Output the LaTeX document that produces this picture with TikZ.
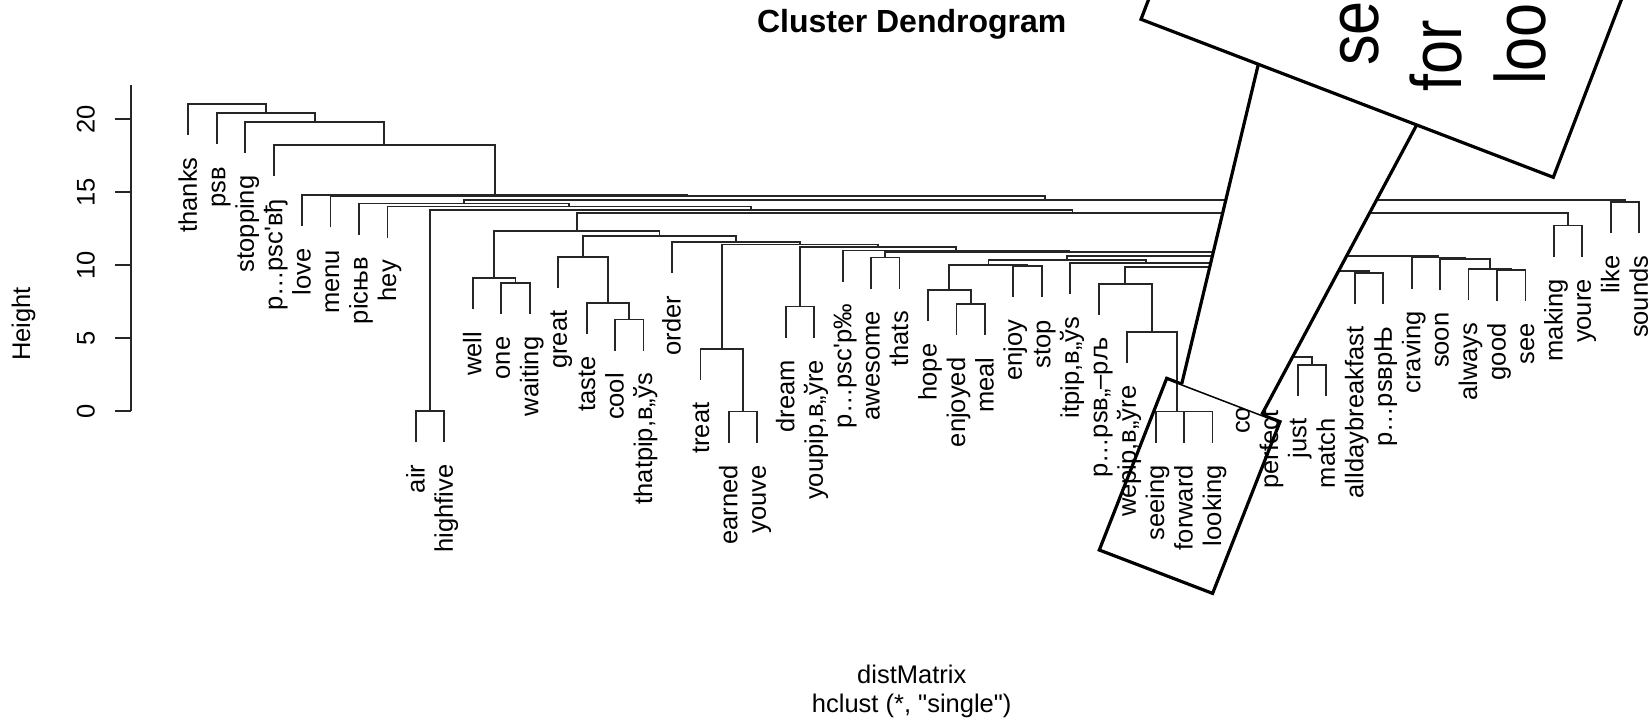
\documentclass[tikz,border=0pt]{standalone}
\usepackage{fontspec}
\setmainfont{Liberation Sans}[Ligatures=TeXOff]
\usetikzlibrary{calc}
\newcommand\lblfont{\fontsize{25.5}{30}\selectfont}
\newcommand\dleaf[4]{%
  \coordinate (#1) at ({188.3+28.45*(#2-1)},{#3+31});
  \node[lbl] (#1t) at ({188.3+28.45*(#2-1)+8.6},{#3+53.5}) {#4};
}
\newcommand\dmerge[4]{%
  \coordinate (#1h) at (0,#4);
  \draw[dl] (#2) -- (#2 |- #1h) -- (#3 |- #1h) -- (#3);
  \coordinate (#1) at ($(#2 |- #1h)!0.5!(#3 |- #1h)$);
}
\begin{document}
\begin{tikzpicture}[x=1pt,y=-1pt,
  dl/.style={line width=1.8pt,draw=black!85,line join=miter},
  lbl/.style={rotate=90,anchor=base east,inner sep=0pt,font=\lblfont},
  tick/.style={rotate=90,anchor=south,inner sep=0pt,font=\lblfont},
  frame/.style={line width=3.2pt,draw=black,line join=miter},
  magtxt/.style={rotate=90,anchor=base west,inner sep=0pt,font=\lblfont}]
\useasboundingbox (0,0) rectangle (1652,725);
\clip (0,0) rectangle (1652,725);
\fill[white] (0,0) rectangle (1652,725);

% titles
\node[font=\fontsize{32}{38}\selectfont\bfseries,anchor=base,inner sep=0pt] (title) at (911.7,33) {Cluster Dendrogram};
\node[font=\lblfont,anchor=base,inner sep=0pt] (xlab1) at (911.7,683) {distMatrix};
\node[font=\lblfont,anchor=base,inner sep=0pt] (xlab2) at (911.7,712) {hclust (*, "single")};
\node[font=\lblfont,rotate=90,anchor=base,inner sep=0pt] (ylab) at (30,324) {Height};

% axis
\draw[dl] (130.7,85) -- (130.7,411);
\foreach \v/\yy in {0/411,5/338,10/265,15/192,20/119}{
  \draw[dl] (115,\yy) -- (130.7,\yy);
  \node[tick] (tk\v) at (95,\yy) {\v};
}

% leaves
\dleaf{L1}{1}{103.7}{thanks}
\dleaf{L2}{2}{113.3}{рѕв}
\dleaf{L3}{3}{122}{stopping}
\dleaf{L4}{4}{145.3}{р…рѕс'вђ}
\dleaf{L5}{5}{195}{love}
\dleaf{L6}{6}{196.3}{menu}
\dleaf{L7}{7}{203.5}{рісњв}
\dleaf{L8}{8}{206.5}{hey}
\dleaf{L9}{9}{411}{air}
\dleaf{L10}{10}{411}{highfive}
\dleaf{L11}{11}{278}{well}
\dleaf{L12}{12}{283}{one}
\dleaf{L13}{13}{283}{waiting}
\dleaf{L14}{14}{257}{great}
\dleaf{L15}{15}{303}{taste}
\dleaf{L16}{16}{319.5}{cool}
\dleaf{L17}{17}{319.5}{thatpip,в„ўs}
\dleaf{L18}{18}{242}{order}
\dleaf{L19}{19}{349}{treat}
\dleaf{L20}{20}{411.5}{earned}
\dleaf{L21}{21}{411.5}{youve}
\dleaf{L22}{22}{306.5}{dream}
\dleaf{L23}{23}{306.5}{youpip,в„ўre}
\dleaf{L24}{24}{250.5}{р…рѕс'р‰}
\dleaf{L25}{25}{257.5}{awesome}
\dleaf{L26}{26}{257.5}{thats}
\dleaf{L27}{27}{290}{hope}
\dleaf{L28}{28}{304}{enjoyed}
\dleaf{L29}{29}{304}{meal}
\dleaf{L30}{30}{266.3}{enjoy}
\dleaf{L31}{31}{266.3}{stop}
\dleaf{L32}{32}{263}{itpip,в„ўs}
\dleaf{L33}{33}{284}{р…рѕв„–рљ}
\dleaf{L34}{34}{332}{wepip,в„ўre}
\dleaf{L35}{35}{411.5}{seeing}
\dleaf{L36}{36}{411.5}{forward}
\dleaf{L37}{37}{411.5}{looking}
\coordinate (L38) at ({188.3+28.45*37},361);
\node[lbl,anchor=base west] (L38t) at ({188.3+28.45*37+8.6},434) {co};
\dleaf{L39}{39}{356.7}{perfect}
\dleaf{L40}{40}{365}{just}
\dleaf{L41}{41}{365}{match}
\dleaf{L42}{42}{273}{alldaybreakfast}
\dleaf{L43}{43}{273}{р…рѕврЊ}
\dleaf{L44}{44}{257.5}{craving}
\dleaf{L45}{45}{259}{soon}
\dleaf{L46}{46}{268.8}{always}
\dleaf{L47}{47}{269.8}{good}
\dleaf{L48}{48}{269.8}{see}
\dleaf{L49}{49}{225.5}{making}
\dleaf{L50}{50}{225.5}{youre}
\dleaf{L51}{51}{202}{like}
\dleaf{L52}{52}{202}{sounds}

% merges
\dmerge{mAH}{L9}{L10}{411}
\dmerge{mOW}{L12}{L13}{283}
\dmerge{mX}{L11}{mOW}{278}
\dmerge{mGc}{L16}{L17}{319.5}
\dmerge{mGb}{L15}{mGc}{303}
\dmerge{mG}{L14}{mGb}{257}
\dmerge{mEY}{L20}{L21}{411.5}
\dmerge{mTR}{L19}{mEY}{349}
\dmerge{mDR}{L22}{L23}{306.5}
\dmerge{mAT}{L25}{L26}{257.5}
\dmerge{mEM}{L28}{L29}{304}
\dmerge{mHEM}{L27}{mEM}{290}
\dmerge{mES}{L30}{L31}{266.3}
\dmerge{mHES}{mHEM}{mES}{265}
\dmerge{mFL}{L36}{L37}{411.5}
\dmerge{mSFL}{L35}{mFL}{411.5}
\dmerge{mWS}{L34}{mSFL}{332}
\dmerge{mPW}{L33}{mWS}{284}
\dmerge{mJM}{L40}{L41}{365}
\dmerge{mPJM}{L39}{mJM}{356.7}
\dmerge{mCPJM}{L38}{mPJM}{330}
\dmerge{mADB}{L42}{L43}{273}
\dmerge{mKd}{mCPJM}{mADB}{271}
\dmerge{mKc}{mPW}{mKd}{266.7}
\dmerge{mKb}{L32}{mKc}{263}
\dmerge{mKa}{mHES}{mKb}{259.8}
\dmerge{mGS}{L47}{L48}{269.8}
\dmerge{mAGS}{L46}{mGS}{268.8}
\dmerge{mSAGS}{L45}{mAGS}{259}
\dmerge{mCS}{L44}{mSAGS}{257.5}
\dmerge{mK}{mKa}{mCS}{256.3}
\dmerge{mAE}{mAT}{mK}{252}
\dmerge{mAD}{L24}{mAE}{250.5}
\dmerge{mAC}{mDR}{mAD}{246.8}
\dmerge{mZb}{mTR}{mAC}{244.5}
\dmerge{mZ}{L18}{mZb}{242}
\dmerge{mY}{mG}{mZ}{235.7}
\dmerge{mW}{mX}{mY}{231}
\dmerge{mMY}{L49}{L50}{225.5}
\dmerge{mV}{mW}{mMY}{212.7}
\dmerge{mU}{mAH}{mV}{209.7}
\dmerge{mT}{L8}{mU}{206.5}
\dmerge{mQ}{L7}{mT}{203.5}
\dmerge{mLS}{L51}{L52}{202}
\dmerge{mP}{mQ}{mLS}{200}
\dmerge{mR}{L6}{mP}{196.3}
\dmerge{mS}{L5}{mR}{195}
\dmerge{mNc}{L4}{mS}{145.3}
\dmerge{mNb}{L3}{mNc}{122}
\dmerge{mNa}{L2}{mNb}{113.3}
\dmerge{mNo}{L1}{mNa}{103.7}

% magnifier: small frame
\coordinate (sT) at (1166.7,378.3);
\coordinate (sR) at (1280,421.7);
\coordinate (sB) at (1212.6,593.4);
\coordinate (sL) at (1099.3,550);
\draw[frame] (sT) -- (sR) -- (sB) -- (sL) -- cycle;

% connecting band
\coordinate (bA) at (1181.7,384.0);
\coordinate (bB) at (1261.7,414.7);
\coordinate (bC) at (1416.7,124.9);
\coordinate (bD) at (1258.3,64.3);
\fill[white] (bA) -- (bB) -- (bC) -- (bD) -- cycle;
\draw[frame] (bA) -- (bD);
\draw[frame] (bB) -- (bC);

% large frame
\coordinate (gBL) at (1141,19.3);
\coordinate (gBR) at (1553.3,177.3);
\coordinate (gTR) at (1803.8,-476.4);
\coordinate (gTL) at (1391.5,-634.4);
\fill[white] (gBL) -- (gBR) -- (gTR) -- (gTL) -- cycle;
\begin{scope}
\clip (gBL) -- (gBR) -- (gTR) -- (gTL) -- cycle;
\node[magtxt] (mg1) at (1378.3,66) {\scalebox{2.4}[2.8]{se}};
\node[magtxt] (mg2) at (1461.7,91.5) {\scalebox{2.4}[2.8]{for}};
\node[magtxt] (mg3) at (1545,85) {\scalebox{2.4}[2.8]{loo}};
\end{scope}
\draw[frame] (gBL) -- (gBR) -- (gTR) -- (gTL) -- cycle;
\end{tikzpicture}
\end{document}
